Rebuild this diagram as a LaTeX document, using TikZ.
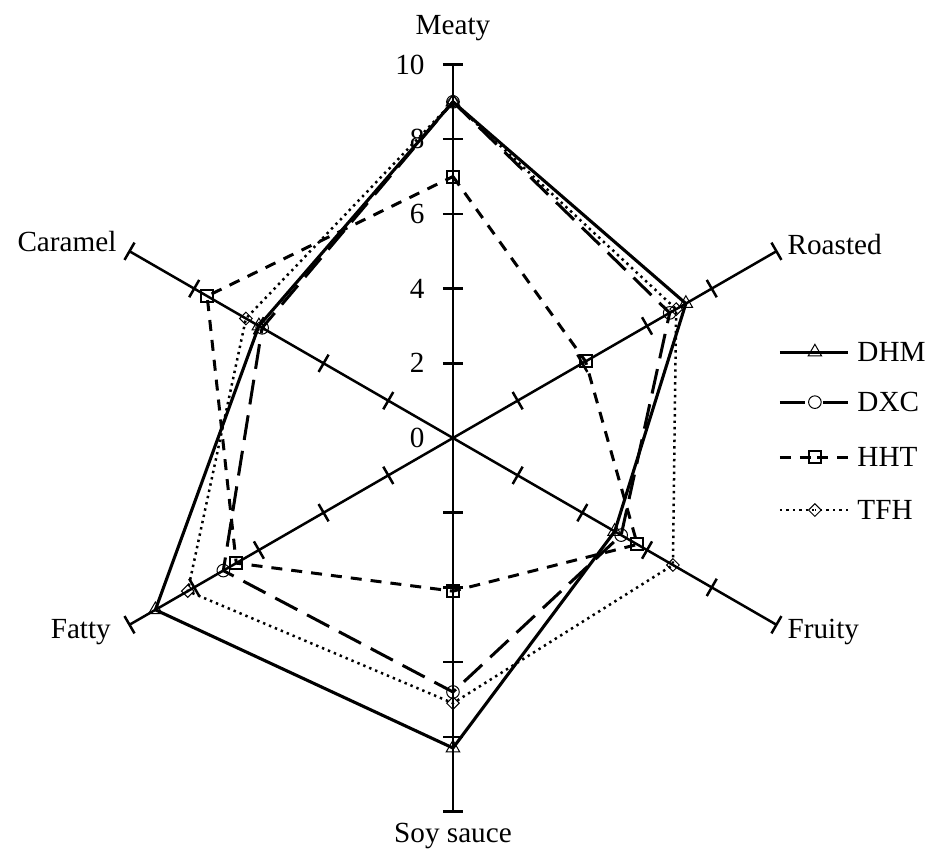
\documentclass[tikz,border=0pt]{standalone}
\usepackage{fontspec}
\setmainfont{Liberation Serif}
\usetikzlibrary{shapes.geometric,calc}
\begin{document}
\begin{tikzpicture}[x=18.675pt,y=18.675pt,
  every node/.style={font=\fontsize{14.6}{17}\selectfont},
  axisline/.style={line width=1.25pt},
  tickmark/.style={line width=1.25pt},
  mk/.style={draw,line width=0.5pt,inner sep=0pt,solid},
  tri/.style={mk,regular polygon,regular polygon sides=3,minimum size=7.8pt},
  circ/.style={mk,circle,minimum size=6.3pt},
  sq/.style={mk,rectangle,minimum size=6pt,line width=1pt},
  dia/.style={mk,diamond,minimum size=6.5pt},
  dhm/.style={line width=1.55pt,line join=round},
  dxc/.style={line width=1.5pt,dash pattern=on 12.5pt off 5.5pt},
  hht/.style={line width=1.5pt,dash pattern=on 5.5pt off 4.5pt},
  tfh/.style={line width=1.25pt,dash pattern=on 1.2pt off 2pt}]
\useasboundingbox (-12.128,-11.325) rectangle (12.638,11.727);
\coordinate (O) at (0,0);
% axes
\foreach \a/\n in {90/1,30/2,-30/3,-90/4,210/5,150/6}{
  \coordinate (A\n) at (\a:10);
  \draw[axisline] (O) -- (A\n);
  \foreach \v in {2,4,6,8,10}{
    \draw[tickmark] ($(\a:\v)+(\a+90:0.268)$) -- ($(\a:\v)+(\a-90:0.268)$);
  }
}
% tick labels
\foreach \v in {0,2,4,6,8,10}{
  \node[anchor=east,inner sep=0pt] (T\v) at (-0.75,\v) {\v};
}
% axis labels
\node (Lmeaty) at (0,10.98) {Meaty};
\node[anchor=west,inner sep=0pt] (Lroast) at (8.95,5.17) {Roasted};
\node[anchor=west,inner sep=0pt] (Lfruit) at (8.95,-5.19) {Fruity};
\node (Lsoy) at (0,-10.66) {Soy sauce};
\node[anchor=east,inner sep=0pt] (Lfat) at (-9.15,-5.19) {Fatty};
\node[anchor=east,inner sep=0pt] (Lcar) at (-9.0,5.25) {Caramel};
% data: angles 90,30,-30,-90,210,150
\foreach \s/\st/\vals in {
  D/tri/{9,7.2,5.0,8.3,9.2,6.0},
  X/circ/{9,6.7,5.2,6.8,7.1,5.9},
  H/sq/{7,4.1,5.7,4.1,6.7,7.6},
  F/dia/{9,6.9,6.8,7.1,8.2,6.4}}{
  \foreach \r [count=\i] in \vals {
    \pgfmathsetmacro{\ang}{150-60*\i}
    \node[\st] (\s\i) at (\ang:\r) {};
  }
}
\draw[dhm] (D1.center) -- (D2.center) -- (D3.center) -- (D4.center) -- (D5.center) -- (D6.center) -- cycle;
\draw[dxc] (X1.center) -- (X2.center) -- (X3.center) -- (X4.center) -- (X5.center) -- (X6.center) -- cycle;
\draw[hht] (H1.center) -- (H2.center) -- (H3.center) -- (H4.center) -- (H5.center) -- (H6.center) -- cycle;
\draw[tfh] (F1.center) -- (F2.center) -- (F3.center) -- (F4.center) -- (F5.center) -- (F6.center) -- cycle;
% legend
\foreach \s/\st/\sty/\y/\lab in {D/tri/dhm/2.30/DHM,X/circ/dxc/0.96/DXC,H/sq/hht/-0.51/HHT,F/dia/tfh/-1.93/TFH}{
  \coordinate (\s La) at (8.755,\y);
  \coordinate (\s Lb) at (10.576,\y);
  \node[\st] (\s Lm) at (9.69,\y) {};
  \draw[\sty] (\s La) -- (\s Lm.center);
  \draw[\sty] (\s Lb) -- (\s Lm.center);
  \node[anchor=west,inner sep=0pt] (\s Lt) at (10.82,\y) {\lab};
}
\end{tikzpicture}
\end{document}
